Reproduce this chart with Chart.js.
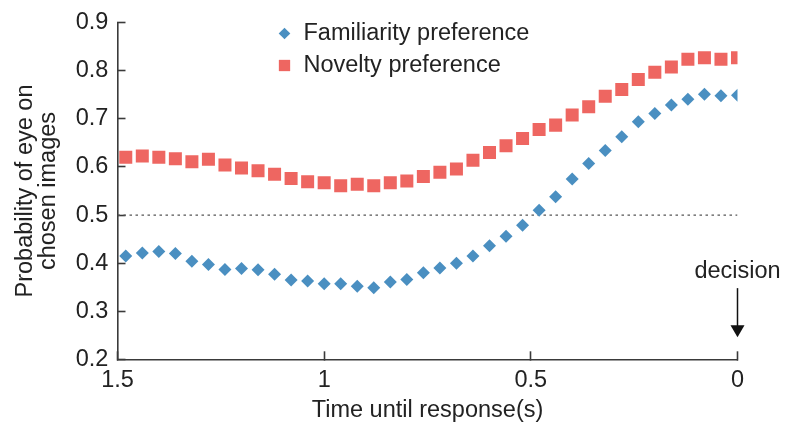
<!DOCTYPE html>
<html>
<head>
<meta charset="utf-8">
<script src="https://cdn.jsdelivr.net/npm/chart.js@4.4.1/dist/chart.umd.min.js"></script>
<style>
  html, body { margin: 0; padding: 0; background: #ffffff; }
  canvas { display: block; }
</style>
</head>
<body>
<canvas id="chart" width="791" height="428"></canvas>
<script>
// Time before the response (s), one bin every 40 ms
const timeUntilResponse = [
  1.48, 1.44, 1.40, 1.36, 1.32, 1.28, 1.24, 1.20, 1.16, 1.12,
  1.08, 1.04, 1.00, 0.96, 0.92, 0.88, 0.84, 0.80, 0.76, 0.72,
  0.68, 0.64, 0.60, 0.56, 0.52, 0.48, 0.44, 0.40, 0.36, 0.32,
  0.28, 0.24, 0.20, 0.16, 0.12, 0.08, 0.04, 0.00
];

// Probability that gaze is on the image that is finally chosen
const familiarityPreference = [
  0.415, 0.421, 0.424, 0.420, 0.404, 0.397, 0.387, 0.389, 0.386, 0.377,
  0.365, 0.363, 0.357, 0.357, 0.352, 0.349, 0.361, 0.366, 0.380, 0.390,
  0.400, 0.415, 0.436, 0.456, 0.479, 0.510, 0.538, 0.575, 0.607, 0.634,
  0.663, 0.694, 0.711, 0.729, 0.741, 0.751, 0.748, 0.749
];
const noveltyPreference = [
  0.620, 0.623, 0.620, 0.617, 0.611, 0.616, 0.604, 0.598, 0.592, 0.585,
  0.576, 0.569, 0.567, 0.561, 0.564, 0.561, 0.567, 0.571, 0.580, 0.589,
  0.596, 0.614, 0.630, 0.644, 0.659, 0.678, 0.687, 0.708, 0.725, 0.747,
  0.761, 0.782, 0.797, 0.808, 0.824, 0.827, 0.824, 0.827
];

const seriesNames = ['Familiarity preference', 'Novelty preference'];
const chanceLevel = 0.5;
const decisionTime = 0;

const xTickValues = [1.5, 1, 0.5, 0];
const xTickLabels = ['1.5', '1', '0.5', '0'];
const yTickValues = [0.2, 0.3, 0.4, 0.5, 0.6, 0.7, 0.8, 0.9];
const yTickLabels = ['0.2', '0.3', '0.4', '0.5', '0.6', '0.7', '0.8', '0.9'];

const xTitle = 'Time until response(s)';
const yTitle = ['Probability of eye on', 'chosen images'];
const decisionLabel = 'decision';

const FONT = '"Liberation Sans", Arial, Helvetica, sans-serif';
const FONT_SIZE = 23.5;
const TEXT = '#222222';
const AXIS = '#3a3a3a';
const BLUE = '#4a8fc1';
const RED = '#ee6661';

const toPoints = (ys) => ys.map((y, i) => ({ x: timeUntilResponse[i], y }));

// In-plot legend: marker + label per series
const legendPlugin = {
  id: 'insetLegend',
  afterDatasetsDraw(chart) {
    const { ctx, chartArea } = chart;
    const items = [
      { text: seriesNames[0], style: 'rectRot', radius: 5.8, color: BLUE },
      { text: seriesNames[1], style: 'rect', radius: 8, color: RED }
    ];
    const mx = chartArea.left + 167;
    const tx = mx + 19;
    ctx.save();
    items.forEach((it, i) => {
      const my = chartArea.top + 10.8 + i * 32;
      ctx.fillStyle = it.color;
      ctx.beginPath();
      if (it.style === 'rectRot') {
        ctx.moveTo(mx - it.radius, my);
        ctx.lineTo(mx, my - it.radius);
        ctx.lineTo(mx + it.radius, my);
        ctx.lineTo(mx, my + it.radius);
      } else {
        const h = it.radius * Math.SQRT1_2;
        ctx.rect(mx - h, my - h, 2 * h, 2 * h);
      }
      ctx.closePath();
      ctx.fill();
      ctx.fillStyle = TEXT;
      ctx.font = FONT_SIZE + 'px ' + FONT;
      ctx.textAlign = 'left';
      ctx.textBaseline = 'middle';
      ctx.fillText(it.text, tx, my);
    });
    ctx.restore();
  }
};

// "decision" marker: label and downward arrow at response time
const decisionPlugin = {
  id: 'decisionArrow',
  afterDatasetsDraw(chart) {
    const { ctx } = chart;
    const xs = chart.scales.x, ys = chart.scales.y;
    const px = xs.getPixelForValue(decisionTime);
    const yText = ys.getPixelForValue(0.369);
    const yTop = ys.getPixelForValue(0.348);
    const yTip = ys.getPixelForValue(0.246);
    ctx.save();
    ctx.fillStyle = TEXT;
    ctx.font = FONT_SIZE + 'px ' + FONT;
    ctx.textAlign = 'center';
    ctx.textBaseline = 'alphabetic';
    ctx.fillText(decisionLabel, px, yText);
    ctx.strokeStyle = '#111111';
    ctx.lineWidth = 1.5;
    ctx.beginPath();
    ctx.moveTo(px, yTop);
    ctx.lineTo(px, yTip - 8);
    ctx.stroke();
    ctx.fillStyle = '#111111';
    ctx.beginPath();
    ctx.moveTo(px - 7, yTip - 12);
    ctx.lineTo(px + 7, yTip - 12);
    ctx.lineTo(px, yTip);
    ctx.closePath();
    ctx.fill();
    ctx.restore();
  }
};

const tickFont = { family: FONT, size: FONT_SIZE };

new Chart(document.getElementById('chart'), {
  type: 'scatter',
  data: {
    datasets: [
      {
        label: seriesNames[0],
        data: toPoints(familiarityPreference),
        pointStyle: 'rectRot',
        pointRadius: 6.5,
        pointHoverRadius: 6.5,
        backgroundColor: BLUE,
        borderWidth: 0,
        order: 1
      },
      {
        label: seriesNames[1],
        data: toPoints(noveltyPreference),
        pointStyle: 'rect',
        pointRadius: 9.2,
        pointHoverRadius: 9.2,
        backgroundColor: RED,
        borderWidth: 0,
        order: 1
      },
      {
        label: 'chance',
        type: 'line',
        data: [{ x: xTickValues[0], y: chanceLevel }, { x: decisionTime, y: chanceLevel }],
        borderColor: '#555555',
        borderWidth: 1.3,
        borderDash: [2.5, 3.5],
        pointRadius: 0,
        fill: false,
        order: 5
      }
    ]
  },
  options: {
    responsive: false,
    animation: false,
    devicePixelRatio: 1,
    layout: { autoPadding: false, padding: { top: 22.7, right: 53.5, left: 0, bottom: 0 } },
    plugins: {
      legend: { display: false },
      tooltip: { enabled: false }
    },
    scales: {
      x: {
        type: 'linear',
        reverse: true,
        min: 0,
        max: 1.5,
        afterBuildTicks: (s) => { s.ticks = xTickValues.map((v) => ({ value: v })); },
        afterFit: (s) => { s.height = 68.7; s.paddingLeft = 0; s.paddingRight = 0; },
        border: { display: true, color: AXIS, width: 1.6 },
        grid: { drawOnChartArea: false, drawTicks: true, tickLength: -8, tickColor: AXIS, tickWidth: 1.6, color: AXIS },
        ticks: {
          padding: 15.4,
          color: TEXT,
          font: tickFont,
          autoSkip: false,
          maxRotation: 0,
          callback: (v) => xTickLabels[xTickValues.indexOf(v)]
        },
        title: {
          display: true,
          text: xTitle,
          color: TEXT,
          font: { family: FONT, size: FONT_SIZE, lineHeight: 1.0 },
          padding: { top: 0, bottom: 6 }
        }
      },
      y: {
        type: 'linear',
        min: 0.2,
        max: 0.9,
        afterBuildTicks: (s) => { s.ticks = yTickValues.map((v) => ({ value: v })); },
        afterFit: (s) => { s.width = 117.5; s.paddingTop = 0; s.paddingBottom = 0; },
        border: { display: true, color: AXIS, width: 1.6 },
        grid: { drawOnChartArea: false, drawTicks: true, tickLength: -8, tickColor: AXIS, tickWidth: 1.6, color: AXIS },
        ticks: {
          padding: 17.2,
          color: TEXT,
          font: tickFont,
          callback: (v) => yTickLabels[yTickValues.findIndex((t) => Math.abs(t - v) < 1e-9)]
        },
        title: {
          display: true,
          text: yTitle,
          color: TEXT,
          font: { family: FONT, size: FONT_SIZE, lineHeight: 1.0 },
          padding: { top: 13.6, bottom: 0 }
        }
      }
    }
  },
  plugins: [legendPlugin, decisionPlugin]
});
</script>
</body>
</html>
